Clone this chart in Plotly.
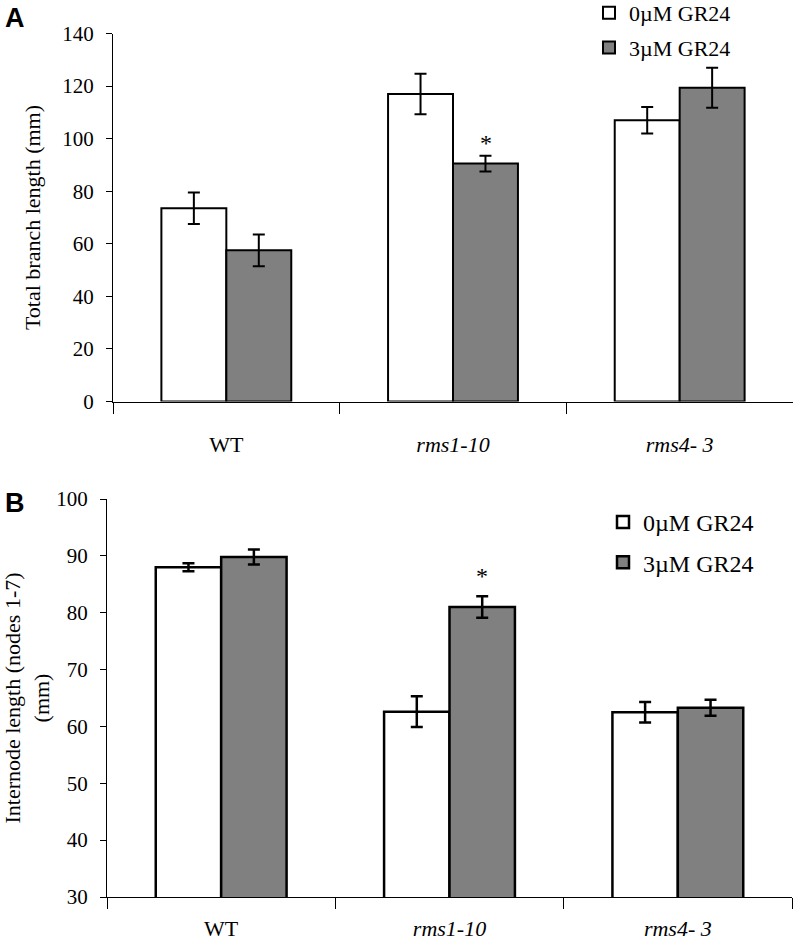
import plotly.graph_objects as go

# ---------------- data ----------------
categories = ["WT", "rms1-10", "rms4- 3"]
tick_text = ["WT", "<i>rms1-10</i>", "<i>rms4- 3</i>"]
series_names = ["0\u00b5M GR24", "3\u00b5M GR24"]

branch_0 = [73.5, 117.0, 107.0]
branch_0_err = [6.0, 7.7, 5.0]
branch_3 = [57.5, 90.5, 119.4]
branch_3_err = [6.0, 3.0, 7.6]

internode_0 = [88.0, 62.6, 62.5]
internode_0_err = [0.7, 2.7, 1.8]
internode_3 = [89.8, 81.0, 63.3]
internode_3_err = [1.3, 1.9, 1.4]

y_ticks_a = [0, 20, 40, 60, 80, 100, 120, 140]
y_ticks_b = [30, 40, 50, 60, 70, 80, 90, 100]

significant_a = ["rms1-10"]
significant_b = ["rms1-10"]

# ---------------- style ----------------
W, H = 796, 943
SERIF = "Liberation Serif"
WHITE = "#ffffff"
GREY = "#808080"

fig = go.Figure()

def add_pair(vals0, err0, vals3, err3, xa, ya, legend, thick, capw, lw):
    fig.add_trace(go.Bar(
        x=categories, y=vals0, name=series_names[0], xaxis=xa, yaxis=ya,
        marker=dict(color=WHITE, line=dict(color="black", width=lw)),
        error_y=dict(type="data", array=err0, color="black", thickness=thick, width=capw),
        legend=legend, legendgroup=legend + "a",
    ))
    fig.add_trace(go.Bar(
        x=categories, y=vals3, name=series_names[1], xaxis=xa, yaxis=ya,
        marker=dict(color=GREY, line=dict(color="black", width=lw)),
        error_y=dict(type="data", array=err3, color="black", thickness=thick, width=capw),
        legend=legend, legendgroup=legend + "b",
    ))

add_pair(branch_0, branch_0_err, branch_3, branch_3_err, "x", "y", "legend", 2, 6, 2)
add_pair(internode_0, internode_0_err, internode_3, internode_3_err, "x2", "y2", "legend2", 2.5, 6, 2.5)

def xaxis_style(domain, anchor, standoff):
    return dict(
        domain=domain, anchor=anchor, type="category", automargin=False,
        categoryorder="array", categoryarray=categories,
        tickmode="array", tickvals=categories, ticktext=tick_text,
        tickson="boundaries", ticks="outside", ticklen=11, tickcolor="black", tickwidth=1,
        showline=True, linecolor="black", linewidth=1,
        showgrid=False, zeroline=False,
        tickfont=dict(family=SERIF, size=22, color="black"),
        ticklabelstandoff=standoff,
    )

def yaxis_style(domain, anchor, rng, ticks, title, standoff):
    return dict(
        domain=domain, anchor=anchor, range=rng, automargin=False,
        tickmode="array", tickvals=ticks,
        ticks="outside", ticklen=6, tickcolor="black", tickwidth=1,
        showline=True, linecolor="black", linewidth=1,
        showgrid=False, zeroline=False,
        tickfont=dict(family=SERIF, size=21, color="black"),
        ticklabelstandoff=8,
        title=dict(text=title, font=dict(family=SERIF, size=22, color="black"), standoff=standoff),
    )

fig.update_layout(
    width=W, height=H,
    margin=dict(l=0, r=0, t=0, b=0, autoexpand=False),
    paper_bgcolor="white", plot_bgcolor="white",
    barmode="group", bargap=0.427, bargroupgap=0,
    xaxis=xaxis_style([113 / W, 793 / W], "y", 23),
    yaxis=yaxis_style([1 - 401.5 / H, 1 - 33.5 / H], "x", [0, 140], y_ticks_a,
                      "Total branch length (mm)", 15),
    xaxis2=xaxis_style([107 / W, 792 / W], "y2", 12),
    yaxis2=yaxis_style([1 - 897 / H, 1 - 499 / H], "x2", [30, 100], y_ticks_b,
                       "Internode length (nodes 1-7)<br>(mm)", 10),
    legend=dict(x=589 / W, y=1 + 8 / H, xanchor="left", yanchor="top",
                font=dict(family=SERIF, size=22, color="black"),
                traceorder="grouped", tracegroupgap=3, bgcolor="rgba(0,0,0,0)"),
    legend2=dict(x=603 / W, y=1 - 500 / H, xanchor="left", yanchor="top",
                 font=dict(family=SERIF, size=24, color="black"),
                 traceorder="grouped", tracegroupgap=6, bgcolor="rgba(0,0,0,0)"),
    showlegend=True,
)

# significance asterisks above the 3uM bar
for cat in significant_a:
    i = categories.index(cat)
    fig.add_annotation(x=cat, y=branch_3[i] + branch_3_err[i], xref="x", yref="y",
                       text="*", showarrow=False, xshift=32.5, yanchor="bottom", yshift=-2,
                       font=dict(family=SERIF, size=24, color="black"))
for cat in significant_b:
    i = categories.index(cat)
    fig.add_annotation(x=cat, y=internode_3[i] + internode_3_err[i], xref="x2", yref="y2",
                       text="*", showarrow=False, xshift=32.5, yanchor="bottom", yshift=5,
                       font=dict(family=SERIF, size=24, color="black"))

# panel letters
fig.add_annotation(x=3 / W, y=1 - 1 / H, xref="paper", yref="paper", text="<b>A</b>",
                   showarrow=False, xanchor="left", yanchor="top",
                   font=dict(family="Liberation Sans", size=27, color="black"))
fig.add_annotation(x=3 / W, y=1 - 486 / H, xref="paper", yref="paper", text="<b>B</b>",
                   showarrow=False, xanchor="left", yanchor="top",
                   font=dict(family="Liberation Sans", size=27, color="black"))

fig.write_html("out.html", post_script="document.body.style.margin='0';",
               config={"displayModeBar": False})
